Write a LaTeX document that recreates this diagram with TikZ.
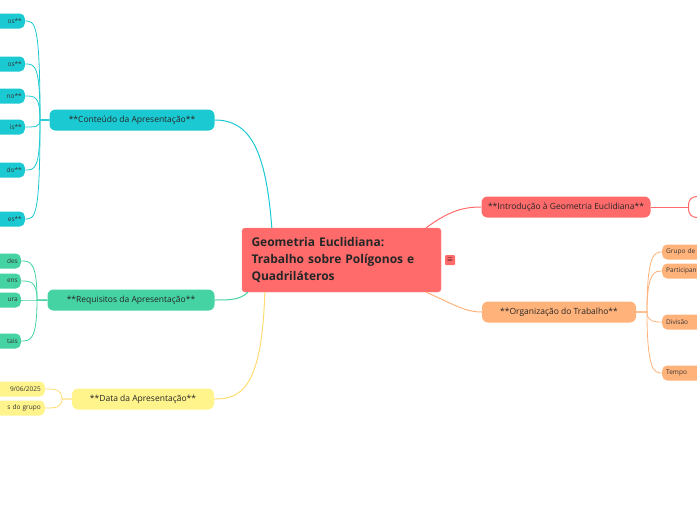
\documentclass[tikz,border=0pt]{standalone}
\usepackage{fontspec}
\setmainfont{Open Sans}
\definecolor{rootred}{HTML}{FF6B6B}
\definecolor{cyanb}{HTML}{1BC9D3}
\definecolor{greenb}{HTML}{45D3A3}
\definecolor{yellowb}{HTML}{FFF38C}
\definecolor{orangeb}{HTML}{FFB27A}
\tikzset{
  branch/.style={rounded corners=6pt, inner sep=0pt, minimum height=21pt, font=\fontsize{8.5}{10}\selectfont, text=black!85},
  leaf/.style={rounded corners=5pt, inner sep=0pt, minimum height=15pt, font=\fontsize{6.5}{8}\selectfont, text=black!80},
  link/.style={line width=1pt}
}
\begin{document}
\begin{tikzpicture}[x=1pt, y=-1pt]
  \useasboundingbox (0,0) rectangle (697,520);
  \clip (0,0) rectangle (697,520);
  % root
  \node[fill=rootred, draw=rootred!80!white, rounded corners=3pt, minimum width=199pt, minimum height=64pt, text width=180pt, align=left, font=\fontsize{12}{17}\selectfont\bfseries, text=black!85] (root) at (341.5,260) {Geometria Euclidiana:\\Trabalho sobre Polígonos e\\Quadriláteros};
  \node[fill=rootred, rounded corners=1pt, minimum size=10pt, inner sep=0pt, font=\fontsize{7}{7}\selectfont] (menu) at (450,260) {$\equiv$};
  % main branches
  \node[branch, fill=cyanb, minimum width=165pt] (cont) at (132,120) {**Conteúdo da Apresentação**};
  \node[branch, fill=greenb, minimum width=167pt] (req) at (131,300) {**Requisitos da Apresentação**};
  \node[branch, fill=yellowb, minimum width=142pt] (data) at (143,399) {**Data da Apresentação**};
  \node[branch, fill=rootred, minimum width=169pt] (intro) at (566,207) {**Introdução à Geometria Euclidiana**};
  \node[branch, fill=orangeb, minimum width=154pt] (org) at (559,312) {**Organização do Trabalho**};
  \draw[link, cyanb] ([xshift=30pt]root.north west) .. controls (266,150) and (250,120) .. (cont.east);
  \draw[link, greenb] ([xshift=6pt]root.south west) .. controls (240,300) and (230,300) .. (req.east);
  \draw[link, yellowb!80!orange] ([xshift=23pt]root.south west) .. controls (262,390) and (240,399) .. (data.east);
  \draw[link, rootred] ([xshift=-15pt]root.north east) .. controls (450,210) and (465,207) .. (intro.west);
  \draw[link, orangeb] ([xshift=-15pt]root.south east) .. controls (455,305) and (465,312) .. (org.west);
  % cyan leaves
  \foreach \y/\t [count=\i] in {21/os**, 64/os**, 96/no**, 127/is**, 170/do**, 219/es**} {
    \node[leaf, fill=cyanb, minimum width=80pt, anchor=east, text width=74pt, align=right] (c\i) at (25,\y) {\t};
    \draw[link, cyanb, line width=0.8pt] (cont.west) -- (40,120) .. controls (40,\y) and (35,\y) .. (c\i.east);
  }
  % green leaves
  \foreach \y/\t [count=\i] in {261/des, 281/ens, 300/ura, 341/tais} {
    \node[leaf, fill=greenb, minimum width=80pt, anchor=east, text width=74pt, align=right] (g\i) at (21,\y) {\t};
    \draw[link, greenb, line width=0.8pt] (req.west) -- (37,300) .. controls (37,\y) and (30,\y) .. (g\i.east);
  }
  % yellow leaves
  \foreach \y/\t [count=\i] in {389/{9/06/2025}, 408/{s do grupo}} {
    \node[leaf, fill=yellowb, minimum width=100pt, anchor=east, text width=92pt, align=right] (y\i) at (45,\y) {\t};
    \draw[link, yellowb!80!orange, line width=0.8pt] (data.west) -- (62,399) .. controls (62,\y) and (55,\y) .. (y\i.east);
  }
  % intro child
  \node[draw=rootred, fill=white, line width=1pt, rounded corners=8pt, minimum width=60pt, minimum height=21pt, anchor=west] (ic) at (688,207) {};
  \draw[link, rootred] (intro.east) -- (ic.west);
  % orange leaves
  \foreach \y/\t [count=\i] in {252/Grupo de, 271/Participantes, 322/Divisão, 373/Tempo} {
    \node[leaf, fill=orangeb, minimum width=80pt, anchor=west, text width=72pt, align=left] (o\i) at (662,\y) {\t};
    \draw[link, orangeb, line width=0.8pt] (org.east) -- (647,312) .. controls (647,\y) and (655,\y) .. (o\i.west);
  }
\end{tikzpicture}
\end{document}
